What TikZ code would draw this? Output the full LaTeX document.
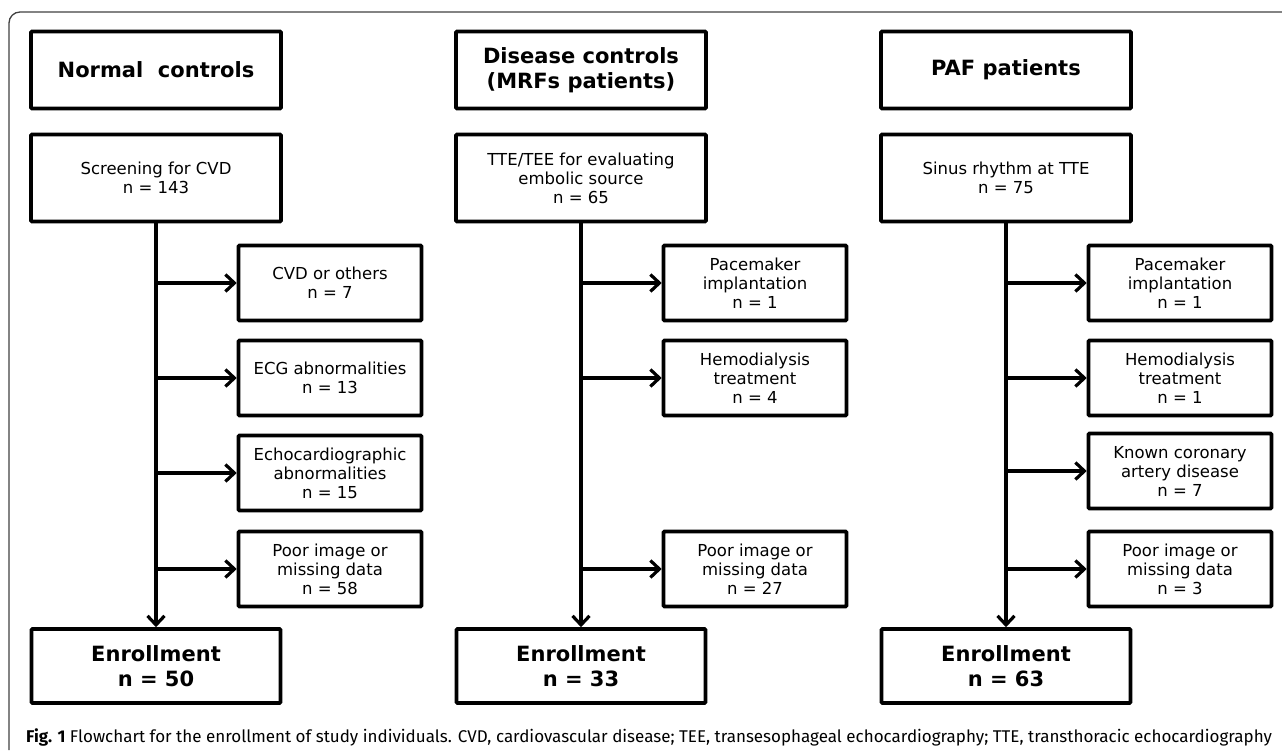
\documentclass[tikz,border=0pt]{standalone}
\usepackage{fontspec}
\setmainfont{DejaVu Sans}
\newfontfamily\capfont{Fira Sans}
\usetikzlibrary{arrows.meta, positioning}

\begin{document}
\begin{tikzpicture}[x=1pt, y=-1pt,
    box/.style={rectangle, draw, line width=3.6pt, rounded corners=1pt, align=center, inner sep=0pt},
    hdr/.style={box, minimum width=250pt, minimum height=77pt, font=\fontsize{21}{25}\selectfont\bfseries},
    srcbox/.style={box, minimum width=250pt, minimum height=87pt, font=\fontsize{16.5}{19}\selectfont},
    exbox/.style={box, minimum width=183pt, minimum height=75pt, font=\fontsize{16.5}{19}\selectfont},
    endbox/.style={box, minimum width=249pt, minimum height=74pt, font=\fontsize{21}{25}\selectfont\bfseries},
    arrow/.style={-{Straight Barb[length=9pt, width=17pt]}, line width=3.2pt}
  ]
    \useasboundingbox (0,0) rectangle (1282,750);
    \draw[line width=1.3pt, black!75, rounded corners=11pt] (9,750) -- (9,12) -- (1282,12);

    % normal controls
    \node[hdr] (hdA) at (156,70) {Normal\ \ controls};
    \node[srcbox] (srcA) at (156,178) {Screening for CVD\\n = 143};
    \node[exbox] (exA1) at (330,283) {CVD or others\\n = 7};
    \node[exbox] (exA2) at (330,378) {ECG abnormalities\\n = 13};
    \node[exbox] (exA3) at (330,473) {Echocardiographic\\abnormalities\\n = 15};
    \node[exbox] (exA4) at (330,569) {Poor image or\\missing data\\n = 58};
    \node[endbox] (enrA) at (156,666) {Enrollment\\n = 50};

    % disease controls
    \node[hdr] (hdB) at (581,70) {Disease controls\\(MRFs patients)};
    \node[srcbox] (srcB) at (581,178) {TTE/TEE for evaluating\\embolic source\\n = 65};
    \node[exbox] (exB1) at (755,283) {Pacemaker\\implantation\\n = 1};
    \node[exbox] (exB2) at (755,378) {Hemodialysis\\treatment\\n = 4};
    \node[exbox] (exB4) at (755,569) {Poor image or\\missing data\\n = 27};
    \node[endbox] (enrB) at (581,666) {Enrollment\\n = 33};

    % PAF patients
    \node[hdr] (hdC) at (1006,70) {PAF patients};
    \node[srcbox] (srcC) at (1006,178) {Sinus rhythm at TTE\\n = 75};
    \node[exbox] (exC1) at (1180,283) {Pacemaker\\implantation\\n = 1};
    \node[exbox] (exC2) at (1180,378) {Hemodialysis\\treatment\\n = 1};
    \node[exbox] (exC3) at (1180,471) {Known coronary\\artery disease\\n = 7};
    \node[exbox] (exC4) at (1180,569) {Poor image or\\missing data\\n = 3};
    \node[endbox] (enrC) at (1006,666) {Enrollment\\n = 63};

    \draw[arrow] (srcA) -- (enrA);
    \draw[arrow] (srcA.south |- exA1) -- (exA1.west);
    \draw[arrow] (srcA.south |- exA2) -- (exA2.west);
    \draw[arrow] (srcA.south |- exA3) -- (exA3.west);
    \draw[arrow] (srcA.south |- exA4) -- (exA4.west);

    \draw[arrow] (srcB) -- (enrB);
    \draw[arrow] (srcB.south |- exB1) -- (exB1.west);
    \draw[arrow] (srcB.south |- exB2) -- (exB2.west);
    \draw[arrow] (srcB.south |- exB4) -- (exB4.west);

    \draw[arrow] (srcC) -- (enrC);
    \draw[arrow] (srcC.south |- exC1) -- (exC1.west);
    \draw[arrow] (srcC.south |- exC2) -- (exC2.west);
    \draw[arrow] (srcC.south |- exC3) -- (exC3.west);
    \draw[arrow] (srcC.south |- exC4) -- (exC4.west);

    \node[anchor=base west, inner sep=0pt, font=\capfont\fontsize{17}{20}\selectfont] (cap) at (26,742)
      {\textbf{Fig. 1} Flowchart for the enrollment of study individuals. CVD, cardiovascular disease; TEE, transesophageal echocardiography; TTE, transthoracic echocardiography};
\end{tikzpicture}
\end{document}
